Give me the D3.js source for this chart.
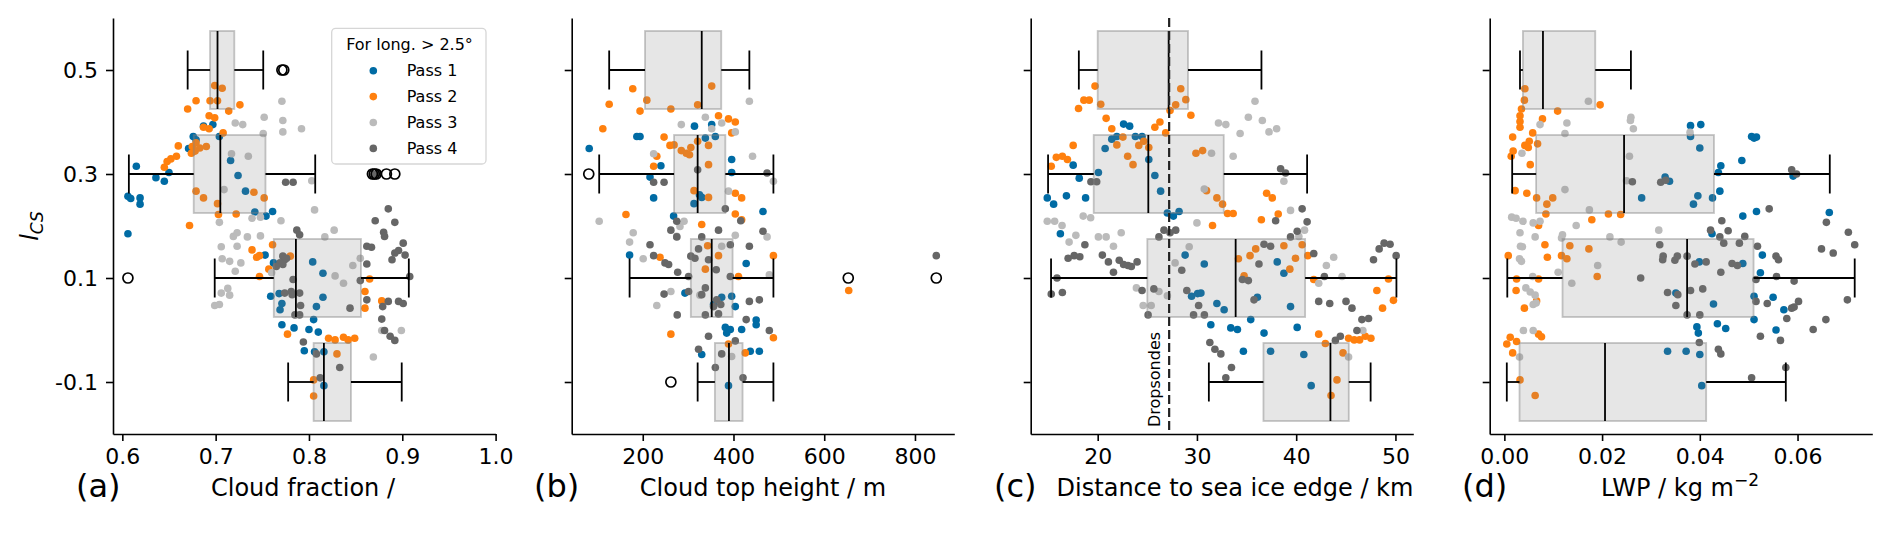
<!DOCTYPE html>
<html>
<head>
<meta charset="utf-8">
<script src="https://cdn.jsdelivr.net/npm/d3@7"></script>
<style>
  body { margin: 0; background: #fff; }
  svg { font-family: "DejaVu Sans", sans-serif; }
</style>
</head>
<body>
<svg id="chart" width="1892" height="549"></svg>
<script>
// I_CS bins and tick labels
const binTicks = [0.5, 0.3, 0.1, -0.1];
const binLabels = ["0.5", "0.3", "0.1", "-0.1"];
const passNames = ["Pass 1", "Pass 2", "Pass 3", "Pass 4"];
const passColors = ["#006BA4", "#FF800E", "#BBBBBB", "#666666"];

// box rows: [bin, whiskerLow, q1, median, q3, whiskerHigh]
const cfBoxes = [[0.5, 0.670, 0.694, 0.702, 0.720, 0.751], [0.3, 0.607, 0.6765, 0.705, 0.7534, 0.8067],
  [0.1, 0.699, 0.7623, 0.786, 0.8557, 0.907], [-0.1, 0.7777, 0.805, 0.816, 0.845, 0.8994]];
const cthBoxes = [[0.5, 126, 205, 330, 373, 435], [0.3, 104, 269, 321, 382, 488],
  [0.1, 171, 306, 352, 398, 488], [-0.1, 321, 359, 390, 420, 488]];
const distBoxes = [[0.5, 18.1, 20.0, 27.15, 29.1, 36.5], [0.3, 15.0, 19.6, 25.1, 32.7, 41.1],
  [0.1, 15.3, 25.0, 33.9, 40.9, 50.1], [-0.1, 31.2, 36.7, 43.45, 45.3, 47.5]];
const lwpBoxes = [[0.5, 0.0032, 0.0038, 0.0079, 0.0186, 0.0259], [0.3, 0.0016, 0.0065, 0.0245, 0.0429, 0.0666],
  [0.1, 0.0006, 0.0119, 0.0374, 0.0510, 0.0717], [-0.1, 0.0005, 0.0031, 0.0206, 0.0413, 0.0576]];

// outliers [x, bin]
const cfOut = [[0.771, 0.5], [0.773, 0.5], [0.868, 0.3], [0.870, 0.3], [0.872, 0.3], [0.883, 0.3], [0.892, 0.3], [0.606, 0.1]];
const cthOut = [[81, 0.3], [653, 0.1], [847, 0.1], [262, -0.1]];
const distOut = [];
const lwpOut = [];

const dropsondeDist = 27.2;

// scatter points [x, I_CS] per pass
const cf1 = [[0.606,0.257],[0.609,0.253],[0.615,0.315],[0.619,0.254],[0.619,0.242],[0.606,0.185],[0.636,0.293],[0.645,0.286],[0.650,0.303],[0.671,0.349],[0.676,0.372],[0.687,0.392],[0.697,0.395],[0.704,0.372],[0.716,0.326],[0.724,0.297],[0.732,0.267],[0.742,0.227],[0.754,0.219],[0.761,0.228],[0.753,0.144],[0.762,0.129],[0.759,0.065],[0.768,0.070],[0.771,0.051],[0.769,0.039],[0.771,0.010],[0.784,0.004],[0.800,0.001],[0.805,0.020],[0.810,-0.004],[0.804,0.131],[0.815,0.109],[0.815,0.063],[0.808,0.045],[0.795,-0.040],[0.806,-0.042],[0.816,-0.042],[0.816,-0.107],[0.679,0.366]];
const cf2 = [[0.670,0.425],[0.679,0.441],[0.675,0.353],[0.660,0.354],[0.645,0.313],[0.648,0.324],[0.652,0.329],[0.658,0.334],[0.699,0.470],[0.707,0.465],[0.694,0.441],[0.702,0.441],[0.693,0.412],[0.699,0.408],[0.687,0.390],[0.693,0.387],[0.708,0.379],[0.726,0.433],[0.714,0.421],[0.679,0.360],[0.683,0.350],[0.674,0.340],[0.678,0.344],[0.690,0.353],[0.679,0.267],[0.687,0.254],[0.702,0.243],[0.672,0.201],[0.703,0.222],[0.722,0.223],[0.741,0.265],[0.752,0.254],[0.739,0.154],[0.744,0.140],[0.747,0.143],[0.757,0.117],[0.761,0.164],[0.780,0.142],[0.747,0.103],[0.837,-0.014],[0.842,-0.019],[0.849,-0.016],[0.828,-0.019],[0.821,-0.016],[0.830,-0.046],[0.860,0.074],[0.878,0.056],[0.865,0.098],[0.860,0.042],[0.805,-0.096],[0.805,-0.127],[0.777,-0.008]];
const cf3 = [[0.771,0.440],[0.772,0.403],[0.772,0.381],[0.752,0.409],[0.751,0.378],[0.792,0.387],[0.721,0.398],[0.729,0.395],[0.717,0.339],[0.735,0.334],[0.709,0.270],[0.803,0.287],[0.806,0.231],[0.739,0.215],[0.748,0.217],[0.704,0.207],[0.770,0.210],[0.719,0.180],[0.723,0.187],[0.734,0.179],[0.748,0.181],[0.706,0.160],[0.723,0.161],[0.707,0.137],[0.715,0.132],[0.727,0.129],[0.721,0.113],[0.706,0.071],[0.713,0.080],[0.715,0.067],[0.699,0.047],[0.704,0.049],[0.817,0.179],[0.827,0.192],[0.855,0.138],[0.847,0.124],[0.837,0.090],[0.828,0.104],[0.869,-0.052],[0.899,-0.001],[0.878,-0.001],[0.760,0.110]];
const cf4 = [[0.775,0.284],[0.783,0.284],[0.787,0.192],[0.790,0.183],[0.772,0.142],[0.774,0.135],[0.769,0.129],[0.765,0.122],[0.772,0.126],[0.776,0.138],[0.783,0.097],[0.781,0.074],[0.790,0.071],[0.782,0.068],[0.774,0.071],[0.791,0.047],[0.785,0.029],[0.790,0.029],[0.844,0.042],[0.862,0.161],[0.867,0.159],[0.871,0.210],[0.880,0.188],[0.881,0.180],[0.892,0.207],[0.885,0.233],[0.896,0.153],[0.901,0.167],[0.892,0.148],[0.889,0.135],[0.903,0.144],[0.908,0.103],[0.862,0.127],[0.862,0.058],[0.855,0.095],[0.879,0.045],[0.885,0.055],[0.896,0.055],[0.901,0.051],[0.878,0.021],[0.881,-0.001],[0.887,-0.012],[0.892,-0.020],[0.794,-0.023],[0.808,-0.046],[0.833,-0.072],[0.812,-0.092],[0.870,0.299],[0.874,0.302]];

const cth1 = [[82,0.349],[187,0.372],[194,0.372],[240,0.316],[216,0.294],[224,0.254],[314,0.392],[338,0.369],[352,0.395],[360,0.372],[396,0.328],[396,0.303],[330,0.255],[313,0.243],[325,0.260],[268,0.219],[465,0.228],[171,0.144],[293,0.071],[356,0.049],[374,0.063],[396,0.065],[404,0.045],[428,0.128],[382,0.005],[393,0.001],[418,0.001],[450,0.019],[450,0.010],[385,-0.006],[330,-0.047],[437,-0.041],[457,-0.041],[389,-0.107]];
const cth2 = [[178,0.464],[126,0.434],[194,0.421],[209,0.442],[262,0.425],[321,0.433],[352,0.469],[112,0.387],[367,0.412],[389,0.406],[404,0.400],[396,0.379],[247,0.371],[260,0.355],[269,0.356],[231,0.334],[224,0.315],[285,0.345],[296,0.340],[303,0.337],[306,0.351],[321,0.363],[345,0.355],[345,0.318],[313,0.268],[345,0.255],[404,0.263],[418,0.254],[163,0.222],[404,0.223],[418,0.212],[330,0.203],[343,0.162],[238,0.140],[367,0.143],[338,0.117],[411,0.103],[488,0.143],[262,-0.008],[488,-0.015],[426,-0.044],[389,-0.027],[654,0.076]];
const cth3 = [[435,0.440],[338,0.409],[352,0.387],[374,0.398],[404,0.381],[285,0.395],[224,0.339],[442,0.334],[488,0.286],[104,0.209],[291,0.209],[282,0.199],[179,0.187],[171,0.169],[275,0.180],[404,0.182],[474,0.179],[201,0.137],[374,0.161],[262,0.074],[231,0.047],[326,0.067],[396,-0.051],[479,0.106],[389,0.267]];
const cth4 = [[224,0.284],[247,0.284],[321,0.308],[474,0.302],[382,0.233],[275,0.209],[416,0.210],[262,0.192],[275,0.179],[367,0.192],[330,0.179],[465,0.190],[216,0.164],[323,0.156],[393,0.164],[435,0.161],[224,0.143],[249,0.129],[257,0.126],[277,0.111],[306,0.142],[315,0.138],[345,0.135],[362,0.116],[393,0.103],[301,0.103],[247,0.069],[301,0.074],[330,0.068],[338,0.081],[363,0.058],[372,0.049],[356,0.045],[435,0.055],[457,0.058],[276,0.029],[338,0.029],[367,0.031],[428,0.020],[479,-0.001],[345,-0.012],[404,-0.021],[323,-0.037],[374,-0.046],[360,-0.072],[421,-0.092],[847,0.143]];

const dist1 = [[20.75,0.349],[21.42,0.367],[21.93,0.372],[22.61,0.396],[23.22,0.392],[23.80,0.372],[24.47,0.372],[25.15,0.328],[25.76,0.297],[26.34,0.267],[18.14,0.292],[17.53,0.317],[20.07,0.303],[14.92,0.254],[15.56,0.242],[16.85,0.258],[18.78,0.254],[16.24,0.185],[27.02,0.225],[27.63,0.219],[28.20,0.228],[28.81,0.144],[29.46,0.065],[30.07,0.070],[30.74,0.127],[30.40,0.071],[32.01,0.051],[32.74,0.039],[31.40,0.010],[33.41,0.004],[34.08,0.001],[35.42,0.020],[36.76,-0.006],[38.09,0.131],[38.76,0.109],[36.09,0.063],[39.43,0.045],[40.10,0.005],[34.68,-0.041],[37.42,-0.041],[40.77,-0.047],[41.51,-0.107]];
const dist2 = [[19.73,0.469],[18.07,0.426],[18.61,0.442],[19.15,0.442],[20.31,0.434],[20.85,0.407],[21.42,0.387],[21.93,0.356],[22.54,0.371],[23.02,0.334],[23.56,0.318],[24.14,0.355],[24.64,0.363],[25.15,0.351],[17.53,0.355],[15.32,0.315],[15.83,0.332],[16.44,0.334],[16.95,0.328],[25.76,0.390],[26.27,0.400],[26.85,0.379],[27.29,0.422],[27.86,0.433],[28.37,0.464],[28.88,0.443],[29.39,0.413],[29.90,0.340],[30.57,0.345],[30.97,0.268],[32.01,0.254],[32.58,0.242],[33.08,0.224],[33.65,0.224],[31.57,0.201],[34.18,0.137],[34.75,0.104],[35.35,0.143],[35.92,0.156],[37.02,0.263],[37.59,0.254],[38.19,0.223],[36.49,0.212],[38.76,0.162],[39.36,0.117],[39.93,0.138],[40.60,0.164],[41.17,0.143],[41.77,0.097],[42.27,-0.008],[42.94,-0.026],[44.11,-0.096],[43.51,-0.126],[44.72,-0.044],[45.28,-0.016],[45.85,-0.019],[46.39,-0.019],[46.96,-0.012],[47.53,-0.016],[48.13,0.076],[48.70,0.042],[49.30,0.098],[49.80,0.057]];
const dist3 = [[14.92,0.209],[15.66,0.209],[16.41,0.201],[18.54,0.219],[19.29,0.216],[17.12,0.169],[17.80,0.182],[20.07,0.179],[20.85,0.179],[21.59,0.161],[22.37,0.187],[23.90,0.081],[24.58,0.047],[25.39,0.047],[26.17,0.074],[27.02,0.066],[27.80,0.129],[29.22,0.160],[30.00,0.206],[31.47,0.340],[33.65,0.334],[32.17,0.398],[32.91,0.395],[34.35,0.378],[35.18,0.409],[35.85,0.440],[36.59,0.403],[37.26,0.381],[38.03,0.387],[38.76,0.286],[30.74,0.271],[39.43,0.230],[40.84,0.192],[40.27,0.180],[42.27,0.090],[43.04,0.124],[43.78,0.140],[44.62,0.103],[45.28,-0.052],[46.72,-0.001]];
const dist4 = [[19.32,0.285],[19.90,0.285],[18.71,0.164],[17.02,0.138],[17.63,0.143],[18.20,0.141],[20.47,0.144],[21.08,0.131],[22.17,0.134],[22.61,0.126],[23.05,0.124],[23.39,0.122],[23.97,0.131],[21.59,0.111],[24.47,0.076],[25.66,0.079],[25.08,0.029],[26.17,0.179],[26.68,0.192],[27.29,0.187],[27.86,0.192],[28.47,0.115],[28.98,0.076],[29.66,0.029],[30.17,0.047],[30.75,0.029],[15.32,0.069],[16.44,0.072],[15.90,0.100],[38.43,0.310],[38.93,0.302],[40.60,0.233],[37.93,0.210],[39.43,0.179],[40.10,0.190],[41.10,0.208],[36.76,0.165],[37.42,0.161],[36.25,0.127],[34.58,0.097],[35.18,0.095],[35.75,0.058],[41.77,0.147],[42.84,0.103],[42.27,0.055],[43.38,0.051],[45.02,0.055],[45.62,0.042],[46.62,0.020],[47.29,0.022],[46.12,-0.001],[43.95,-0.020],[44.45,-0.012],[47.79,0.135],[48.36,0.156],[48.86,0.167],[49.46,0.165],[50.07,0.143],[31.30,-0.024],[31.81,-0.037],[32.41,-0.046],[33.48,-0.072],[32.91,-0.092]];

const lwp1 = [[0.0381,0.393],[0.0402,0.395],[0.0381,0.372],[0.0400,0.350],[0.0506,0.372],[0.0511,0.369],[0.0516,0.371],[0.0486,0.326],[0.0443,0.316],[0.0438,0.303],[0.0591,0.296],[0.0338,0.286],[0.0329,0.294],[0.0281,0.254],[0.0387,0.242],[0.0396,0.258],[0.0426,0.254],[0.0441,0.267],[0.0488,0.219],[0.0516,0.228],[0.0665,0.226],[0.0425,0.185],[0.0528,0.144],[0.0399,0.131],[0.0488,0.128],[0.0524,0.110],[0.0351,0.071],[0.0428,0.050],[0.0511,0.065],[0.0550,0.063],[0.0572,0.039],[0.0511,0.020],[0.0436,0.012],[0.0453,0.003],[0.0394,0.006],[0.0397,-0.006],[0.0556,0.000],[0.0334,-0.041],[0.0372,-0.041],[0.0400,-0.047],[0.0404,-0.107]];
const lwp2 = [[0.0042,0.464],[0.0041,0.442],[0.0035,0.425],[0.0032,0.412],[0.0032,0.401],[0.0032,0.390],[0.0058,0.379],[0.0017,0.371],[0.0051,0.363],[0.0042,0.355],[0.0049,0.351],[0.0068,0.358],[0.0018,0.344],[0.0014,0.334],[0.0053,0.318],[0.0078,0.406],[0.0109,0.421],[0.0196,0.433],[0.0022,0.268],[0.0046,0.263],[0.0066,0.254],[0.0087,0.242],[0.0099,0.254],[0.0085,0.223],[0.0179,0.212],[0.0213,0.223],[0.0238,0.222],[0.0070,0.201],[0.0083,0.164],[0.0134,0.162],[0.0173,0.156],[0.0117,0.143],[0.0128,0.137],[0.0088,0.140],[0.0008,0.143],[0.0025,0.098],[0.0070,0.098],[0.0024,0.076],[0.0190,0.103],[0.0066,0.056],[0.0041,0.042],[0.0012,-0.014],[0.0025,-0.022],[0.0005,-0.027],[0.0017,-0.044],[0.0032,-0.096],[0.0063,-0.126],[0.0070,-0.008],[0.0076,-0.013]];
const lwp3 = [[0.0172,0.440],[0.0073,0.395],[0.0128,0.398],[0.0124,0.378],[0.0259,0.409],[0.0258,0.403],[0.0264,0.387],[0.0256,0.334],[0.0380,0.380],[0.0036,0.340],[0.0124,0.270],[0.0250,0.287],[0.0174,0.231],[0.0015,0.217],[0.0024,0.215],[0.0038,0.209],[0.0059,0.206],[0.0073,0.209],[0.0032,0.187],[0.0147,0.201],[0.0063,0.179],[0.0119,0.183],[0.0216,0.179],[0.0239,0.169],[0.0316,0.192],[0.0033,0.161],[0.0037,0.160],[0.0031,0.137],[0.0035,0.132],[0.0191,0.124],[0.0110,0.111],[0.0058,0.103],[0.0138,0.090],[0.0044,0.081],[0.0053,0.073],[0.0063,0.067],[0.0059,0.049],[0.0065,0.052],[0.0039,-0.001],[0.0059,-0.001],[0.0031,-0.052],[0.0117,0.177]];
const lwp4 = [[0.0262,0.285],[0.0320,0.284],[0.0330,0.288],[0.0588,0.308],[0.0598,0.300],[0.0542,0.233],[0.0445,0.210],[0.0659,0.207],[0.0422,0.192],[0.0458,0.191],[0.0449,0.167],[0.0492,0.180],[0.0481,0.167],[0.0441,0.179],[0.0518,0.161],[0.0649,0.156],[0.0704,0.188],[0.0717,0.164],[0.0673,0.148],[0.0318,0.164],[0.0325,0.142],[0.0324,0.135],[0.0349,0.134],[0.0354,0.142],[0.0374,0.142],[0.0390,0.127],[0.0413,0.131],[0.0466,0.128],[0.0477,0.124],[0.0556,0.142],[0.0561,0.135],[0.0443,0.111],[0.0515,0.097],[0.0557,0.103],[0.0593,0.094],[0.0279,0.100],[0.0334,0.072],[0.0355,0.068],[0.0381,0.076],[0.0406,0.079],[0.0515,0.055],[0.0538,0.051],[0.0588,0.042],[0.0593,0.044],[0.0602,0.055],[0.0702,0.058],[0.0351,0.047],[0.0374,0.029],[0.0400,0.029],[0.0578,0.022],[0.0658,0.020],[0.0632,0.001],[0.0524,-0.012],[0.0565,-0.020],[0.0399,-0.024],[0.0438,-0.037],[0.0443,-0.046],[0.0576,-0.072],[0.0506,-0.092]];

const cfTicks = [0.6, 0.7, 0.8, 0.9, 1.0];
const cthTicks = [200, 400, 600, 800];
const distTicks = [20, 30, 40, 50];
const lwpTicks = [0.00, 0.02, 0.04, 0.06];

const svg = d3.select("#chart");
const plotTop = 18, plotBottom = 434, panelW = 382.6;
const y = d3.scaleLinear().domain([-0.2, 0.6]).range([plotBottom, plotTop]);
const boxHalf = 0.075, capHalf = 0.0375;
const dotR = 3.8;

const panels = [
  { left: 113, domain: [0.59, 1.0], ticks: cfTicks, fmt: d3.format(".1f"), boxes: cfBoxes, out: cfOut,
    pts: [cf1, cf2, cf3, cf4], letter: "(a)", letterX: 76, label: "Cloud fraction /", labelX: 303 },
  { left: 571.7, domain: [43.4, 886.7], ticks: cthTicks, fmt: d3.format("d"), boxes: cthBoxes, out: cthOut,
    pts: [cth1, cth2, cth3, cth4], letter: "(b)", letterX: 534, label: "Cloud top height / m", labelX: 763 },
  { left: 1030.7, domain: [13.25, 51.8], ticks: distTicks, fmt: d3.format("d"), boxes: distBoxes, out: distOut,
    pts: [dist1, dist2, dist3, dist4], letter: "(c)", letterX: 994, label: "Distance to sea ice edge / km", labelX: 1235 },
  { left: 1489.7, domain: [-0.003, 0.0753], ticks: lwpTicks, fmt: d3.format(".2f"), boxes: lwpBoxes, out: lwpOut,
    pts: [lwp1, lwp2, lwp3, lwp4], letter: "(d)", letterX: 1462, label: "LWP / kg m", labelX: 1680 }
];

panels.forEach((p, i) => {
  const x = d3.scaleLinear().domain(p.domain).range([p.left, p.left + panelW]);
  const g = svg.append("g");

  // scatter points per pass
  p.pts.forEach((arr, k) => {
    g.append("g").selectAll("circle").data(arr).join("circle")
      .attr("cx", d => x(d[0])).attr("cy", d => y(d[1])).attr("r", dotR)
      .attr("fill", passColors[k]);
  });

  // boxes
  const bx = g.append("g");
  bx.selectAll("rect").data(p.boxes).join("rect")
    .attr("x", d => x(d[2])).attr("width", d => x(d[4]) - x(d[2]))
    .attr("y", d => y(d[0] + boxHalf)).attr("height", d => y(d[0] - boxHalf) - y(d[0] + boxHalf))
    .attr("fill", "#808080").attr("fill-opacity", 0.2)
    .attr("stroke", "#808080").attr("stroke-opacity", 0.45).attr("stroke-width", 1.8);

  const line = (sel, cls, x1, y1, x2, y2) => sel.selectAll("line." + cls).data(p.boxes).join("line")
    .attr("class", cls).attr("x1", x1).attr("y1", y1).attr("x2", x2).attr("y2", y2)
    .attr("stroke", "#000").attr("stroke-width", 1.8);
  line(bx, "wl", d => x(d[1]), d => y(d[0]), d => x(d[2]), d => y(d[0]));
  line(bx, "wh", d => x(d[4]), d => y(d[0]), d => x(d[5]), d => y(d[0]));
  line(bx, "cl", d => x(d[1]), d => y(d[0] + capHalf), d => x(d[1]), d => y(d[0] - capHalf));
  line(bx, "ch", d => x(d[5]), d => y(d[0] + capHalf), d => x(d[5]), d => y(d[0] - capHalf));
  line(bx, "md", d => x(d[3]), d => y(d[0] + boxHalf), d => x(d[3]), d => y(d[0] - boxHalf));

  g.append("g").selectAll("circle").data(p.out).join("circle")
    .attr("cx", d => x(d[0])).attr("cy", d => y(d[1])).attr("r", 5)
    .attr("fill", "none").attr("stroke", "#000").attr("stroke-width", 1.7);

  if (i === 2) {
    g.append("line").attr("x1", x(dropsondeDist)).attr("x2", x(dropsondeDist))
      .attr("y1", plotTop).attr("y2", plotBottom)
      .attr("stroke", "#222").attr("stroke-width", 2.2).attr("stroke-dasharray", "9,4");
    g.append("text").attr("transform", `translate(${x(dropsondeDist) - 9},427) rotate(-90)`)
      .attr("font-size", 16).attr("fill", "#000").text("Dropsondes");
  }

  // axes
  const xa = g.append("g").attr("transform", `translate(0,${plotBottom})`)
    .call(d3.axisBottom(x).tickValues(p.ticks).tickFormat(p.fmt).tickSize(7).tickSizeOuter(0).tickPadding(7));
  const ya = g.append("g").attr("transform", `translate(${p.left},0)`)
    .call(d3.axisLeft(y).tickValues(binTicks).tickFormat(i === 0 ? (d, j) => binLabels[j] : "")
      .tickSize(7).tickSizeOuter(0).tickPadding(8));
  [xa, ya].forEach(a => {
    a.select(".domain").attr("stroke-width", 1.6).attr("stroke", "#000");
    a.selectAll(".tick line").attr("stroke-width", 1.6);
    a.selectAll("text").attr("font-size", 22).attr("font-family", "DejaVu Sans").attr("fill", "#000");
  });

  g.append("text").attr("x", p.letterX).attr("y", 497).attr("font-size", 32).text(p.letter);
  const lab = g.append("text").attr("x", p.labelX).attr("y", 496).attr("font-size", 24)
    .attr("text-anchor", "middle").text(p.label);
  if (i === 3) lab.append("tspan").attr("font-size", 17).attr("dy", -10).text("\u22122");
});

// y label
const yl = svg.append("text").attr("transform", "translate(38,226) rotate(-90)")
  .attr("text-anchor", "middle").attr("font-size", 24);
yl.append("tspan").attr("font-style", "italic").text("l");
yl.append("tspan").attr("font-style", "italic").attr("font-size", 17).attr("dy", 5).text("CS");

// legend
const lg = svg.append("g");
lg.append("rect").attr("x", 331.7).attr("y", 28.3).attr("width", 154.3).attr("height", 135.7)
  .attr("rx", 4).attr("fill", "#fff").attr("fill-opacity", 0.85).attr("stroke", "#d6d6d6").attr("stroke-width", 1.3);
lg.append("text").attr("x", 409.5).attr("y", 50).attr("text-anchor", "middle").attr("font-size", 16).text("For long. > 2.5\u00b0");
lg.selectAll("circle").data(passNames).join("circle")
  .attr("cx", 373.3).attr("cy", (d, k) => 70.7 + k * 25.9).attr("r", dotR)
  .attr("fill", (d, k) => passColors[k]);
lg.selectAll("text.entry").data(passNames).join("text").attr("class", "entry")
  .attr("x", 406.7).attr("y", (d, k) => 76.3 + k * 25.9).attr("font-size", 16).text(d => d);
</script>
</body>
</html>
